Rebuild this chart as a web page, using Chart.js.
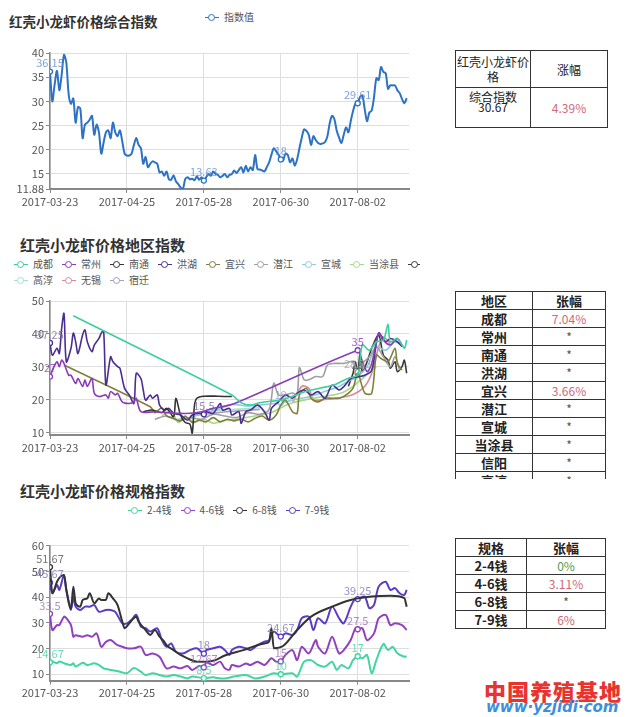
<!DOCTYPE html>
<html>
<head>
<meta charset="utf-8">
<script src="https://cdn.jsdelivr.net/npm/chart.js@4.4.1/dist/chart.umd.min.js"></script>
<style>
body{margin:0;background:#fff;font-family:"Noto Sans CJK SC",sans-serif;}
#page{position:relative;width:626px;height:717px;overflow:hidden;}
.title{position:absolute;font-weight:bold;color:#333;white-space:nowrap;line-height:1;}
.box{position:absolute;}
.lg{position:absolute;white-space:nowrap;overflow:hidden;font-size:10px;color:#555;line-height:12px;height:12px;}
.lg .it{display:inline-block;margin-right:9px;}
.lg .ic{display:inline-block;position:relative;width:14px;height:12px;vertical-align:top;margin-right:5px;}
.lg .ic:before{content:"";position:absolute;left:0;right:0;top:5.5px;height:1.5px;background:var(--c);}
.lg .ic:after{content:"";position:absolute;left:3px;top:2.5px;width:5px;height:5px;border:1.5px solid var(--c);border-radius:50%;background:#fff;}
table{position:absolute;border-collapse:collapse;table-layout:fixed;}
td{border:1.5px solid #333;text-align:center;padding:0;color:#222;}
#t2 td,#t3 td{height:17px;line-height:17px;font-size:12px;}
#t2 td:first-child,#t3 td:first-child,#t2 tr:first-child td,#t3 tr:first-child td{font-weight:bold;font-size:13px;}
.up{color:#d0687a;}
.zero{color:#4f9a5a;}
.star{color:#555;font-size:11px;}
</style>
</head>
<body>
<div id="page">

<div class="title" style="left:9px;top:15px;font-size:13.5px;">红壳小龙虾价格综合指数</div>
<div class="lg" id="lg1" style="left:205px;top:11px;"></div>
<div class="box" style="left:0;top:40px;width:420px;height:172px;"><canvas id="c1"></canvas></div>

<table id="t1" style="left:455px;top:50px;width:152px;">
<colgroup><col style="width:75px"><col style="width:77px"></colgroup>
<tr style="height:37px;"><td style="font-size:12px;line-height:15px;">红壳小龙虾价格</td><td style="font-size:12px;">涨幅</td></tr>
<tr style="height:40px;"><td style="font-size:12px;line-height:10px;vertical-align:top;padding-top:4px;">综合指数<br>30.67</td><td class="up" style="font-size:12px;">4.39%</td></tr>
</table>

<div class="title" style="left:20px;top:237px;font-size:15px;">红壳小龙虾价格地区指数</div>
<div class="lg" id="lg2a" style="left:14px;top:258px;width:406px;"></div>
<div class="lg" id="lg2b" style="left:14px;top:274px;width:406px;"></div>
<div class="box" style="left:0;top:290px;width:420px;height:170px;"><canvas id="c2"></canvas></div>

<div class="box" style="left:455px;top:291px;width:152px;height:188px;overflow:hidden;">
<table id="t2" style="left:0;top:0;width:150px;">
<colgroup><col style="width:77px"><col style="width:73px"></colgroup>
<tr><td>地区</td><td>张幅</td></tr>
<tr><td>成都</td><td class="up">7.04%</td></tr>
<tr><td>常州</td><td class="star">*</td></tr>
<tr><td>南通</td><td class="star">*</td></tr>
<tr><td>洪湖</td><td class="star">*</td></tr>
<tr><td>宜兴</td><td class="up">3.66%</td></tr>
<tr><td>潜江</td><td class="star">*</td></tr>
<tr><td>宣城</td><td class="star">*</td></tr>
<tr><td>当涂县</td><td class="star">*</td></tr>
<tr><td>信阳</td><td class="star">*</td></tr>
<tr><td>高淳</td><td class="star">*</td></tr>
</table>
</div>

<div class="title" style="left:20px;top:483px;font-size:15px;">红壳小龙虾价格规格指数</div>
<div class="lg" id="lg3" style="left:128px;top:504px;"></div>
<div class="box" style="left:0;top:535px;width:420px;height:170px;"><canvas id="c3"></canvas></div>

<table id="t3" style="left:455px;top:538px;width:150px;">
<colgroup><col style="width:71px"><col style="width:79px"></colgroup>
<tr><td>规格</td><td>张幅</td></tr>
<tr><td>2-4钱</td><td class="zero">0%</td></tr>
<tr><td>4-6钱</td><td class="up">3.11%</td></tr>
<tr><td>6-8钱</td><td class="star">*</td></tr>
<tr><td>7-9钱</td><td class="up">6%</td></tr>
</table>

<div style="position:absolute;left:484px;top:674px;font-size:22px;font-weight:900;color:#e8342e;letter-spacing:1px;white-space:nowrap;">中国养殖基地</div>
<div style="position:absolute;left:486px;top:698px;font:italic bold 15px 'DejaVu Sans';color:#3b8fdc;white-space:nowrap;">www·yzjidi·com</div>
</div>

<script>
/* ---------------- DATA ---------------- */

const xTickLabels = ["2017-03-23","2017-04-25","2017-05-28","2017-06-30","2017-08-02"]
const markLabels = ["2017-03-23","2017-05-28","2017-06-30","2017-08-02"]

// composite index, one value per day from 2017-03-23
const indexValues = [36.15,30.0,33.5,36.3,32.3,35.5,39.6,38.0,31.5,29.5,
30.6,25.6,28.8,28.5,22.4,25.2,25.6,26.2,27.0,23.1,
25.2,23.6,19.2,21.5,23.6,24.0,22.4,25.6,23.6,22.8,
24.0,21.7,19.2,18.8,18.8,19.2,21.0,22.4,21.0,20.3,
17.1,18.5,16.4,17.1,17.6,17.4,17.1,15.3,15.5,14.6,
15.5,13.9,13.8,14.7,13.5,12.9,12.2,11.9,13.9,14.3,
13.9,14.0,13.7,14.5,13.8,14.3,13.63,14.3,15.0,14.6,
15.5,15.0,14.8,14.3,14.6,15.0,14.3,14.8,15.0,15.7,
15.2,15.8,16.4,15.3,16.7,15.5,16.4,15.8,18.9,16.0,
15.9,15.7,15.5,16.4,17.4,19.0,20.3,19.7,19.0,18,
17.8,19.2,18.9,17.4,18.2,16.7,18.0,20.3,22.5,24.2,
23.9,23.1,21.0,22.8,22.0,21.4,21.2,21.3,21.6,22.8,
25.5,27.0,26.3,23.9,22.5,21.4,23.1,24.6,23.6,25.9,
28.0,29.5,29.61,30.9,31.2,28.4,25.9,27.7,28.1,30.9,
34.8,34.4,37.1,36.1,35.8,32.6,33.3,33.3,33.3,32.3,
31.7,30.5,29.6,30.67]
const yTicks1 = [11.88,15,20,25,30,35,40]

// region index: [day offset, value]
const chengdu = [[10,45.5],[78,21.4],[82,19],[86,18.3],[90,19],[95,19.5],[99,19.8],[104,21],[110,22.5],[116,23.5],[122,24.5],[128,26.5],[132,27.5],[134,36.6],[137,35],[140,37.6],[143,38],[145,42.9],[146,37.6],[149,38.6],[152,35.6],[153,38.1]]
const changzhou = [[0,27],[1,28.9],[3,31.5],[4,30],[5,32],[6,31],[8,27.4],[9,27.4],[11,24.9],[12,26.4],[14,24],[15,26],[16,24],[18,26.4],[19,21.9],[21,20.9],[24,21.4],[25,20.4],[26,22.4],[28,21.4],[29,21.9],[31,19.3],[34,18.8],[36,19.3],[37,20.4],[39,16.3],[45,16.3],[50,16],[55,15.8],[60,15.8],[65,16.3],[70,17.3],[77,18.3],[81,19.3],[132,35],[133,33.5],[136,28.5],[138,31],[141,40.2],[143,38],[146,36.6],[149,38.6],[151,36.6]]
const nantong = [[40,16.3],[44,16.8],[48,16],[50,17.3],[53,14.8],[54,20.4],[56,15.3],[58,13],[60,12.5],[61,9.8],[62,18.3],[63,20.4],[66,21],[72,21],[78,20.9]]
const honghu = [[0,37.25],[1,33.5],[3,35.6],[4,34],[5,41.7],[6,46.2],[7,31.5],[9,35.6],[10,40.2],[11,37.6],[12,34],[14,39.7],[15,41.2],[16,37.6],[18,34.6],[19,36.6],[21,38.6],[22,40.2],[23,40.9],[24,24.4],[26,33],[27,31.5],[29,30],[30,29.5],[32,23.4],[34,21.4],[36,18.8],[37,28],[39,26.4],[40,22.9],[41,19.8],[43,21.4],[44,20.4],[46,21.4],[47,18.3],[49,16.8],[51,17.3],[53,15.8],[56,15.3],[59,13.7],[61,15.3],[64,15.8],[66,15.5],[67,16.3],[70,15.8],[73,18.8],[74,16.8],[77,17.3],[78,15.3],[81,16.3],[82,12.7],[84,16.3],[86,16.8],[89,18.3],[92,16.3],[94,13.7],[95,17.3],[98,19.3],[101,21.4],[104,20.4],[106,21.9],[109,22.9],[112,21.4],[115,22.4],[118,20.4],[121,24.4],[124,22.9],[126,23.9],[129,26.4],[132,26.9],[135,27.4],[138,28.9],[141,40.2],[144,37.6],[146,38.6],[149,37.6],[151,36.1]]
const yixing = [[6,30.5],[43,17.8],[45,16],[48,17.5],[50,15],[53,14.3],[56,13.5],[58,15],[61,13],[64,13.7],[67,13.2],[70,14.5],[73,13.2],[76,14],[79,13.5],[82,14],[85,13.2],[88,14.3],[91,15],[94,13.7],[97,15.3],[99,18.3],[101,19.8],[104,16.3],[106,15.8],[107,21.4],[110,23.4],[112,20.4],[115,19.3],[118,20.4],[121,20.4],[124,20.4],[127,21.4],[130,23.5],[132,28],[135,22],[138,21.9],[140,33.5],[142,32.5],[145,31.5],[148,35.6],[149,31],[151,29]]
const qianjiang = [[45,14],[50,15],[55,13.5],[60,14.5],[65,14],[70,15.5],[75,15],[80,14.5],[85,16],[90,15.5],[94,17],[96,25],[98,21.4],[101,21.4],[104,22],[106,21.5],[107,29.7],[109,26],[111,26],[114,27],[117,27],[119,30.5],[122,31],[126,31],[130,31.5],[132,28.33],[134,31],[137,33],[140,36],[143,33],[146,30],[148,33],[150,29]]
const xuancheng = [[55,14],[60,14.5],[66,16],[72,17],[78,18.5],[85,18],[92,18.5],[99,19],[105,20],[112,21],[118,22.5],[124,24],[128,25.5],[132,27],[136,30],[140,36],[144,35],[148,37.5],[152,36]]
const dangtu = [[48,15],[52,16.5],[55,13],[58,14.5],[62,13.2],[66,14],[70,12.8],[74,13.5],[80,14],[88,15],[95,16],[99,17.5],[104,19],[110,20],[118,21],[125,22],[130,24],[135,27],[140,30]]
const xinyang = [[128,24],[130,28],[131,31.5],[132,28],[133,34],[134,28.5],[136,31.5],[138,35.6],[141,39.6],[143,33.5],[145,32],[146,29.5],[148,31.5],[149,28.5],[151,30],[152,32],[153,28]]
const gaochun = [[60,15],[70,16.5],[80,17],[90,17.5]]
const wuxi = [[104,19],[108,24],[111,23.5],[113,20],[118,20],[124,20.5],[130,21.5],[135,24],[138,28],[141,36],[143,39],[146,37]]
const suqian = [[60,15],[66,15.5],[72,16],[80,16.5],[90,17]]
const yTicks2 = [10,20,30,40,50]

// size index: [day offset, value]
const size24 = [[0,14.67],[1,14.9],[3,14.3],[4,15],[6,14.3],[9,13.6],[10,14.3],[11,13],[14,14.5],[16,13.6],[19,14.3],[21,13.6],[23,12.3],[26,11.7],[30,11],[33,10.4],[36,12.4],[39,11],[41,9.7],[44,10.4],[47,9.7],[50,9.1],[53,9.7],[56,9.1],[59,8.4],[61,9.1],[66,8.5],[70,8.8],[73,8.4],[75,8.4],[79,9.1],[84,9.7],[88,8.4],[92,9.1],[96,10.4],[99,10],[104,10.4],[106,9.1],[109,14.9],[112,15.5],[115,13.6],[118,13],[121,14.9],[123,11.7],[125,13.6],[128,12.3],[130,15.5],[132,17],[134,16.2],[136,17.5],[138,10.4],[140,15.5],[143,21.8],[145,19.4],[147,20.7],[149,18.2],[152,16.8],[153,17]]
const size46 = [[0,33.5],[1,27.2],[3,29.1],[4,29.1],[6,32.4],[7,31.8],[9,29.1],[10,24.6],[11,25.2],[14,24.6],[16,25.2],[18,24.6],[20,25.9],[22,20.7],[24,22.6],[26,23.3],[29,21.3],[31,20.7],[33,20.1],[36,20.1],[39,20.7],[41,17.5],[44,18.1],[47,16.8],[50,12.3],[53,13],[56,12.3],[59,13.2],[61,11.7],[64,13.2],[66,12.67],[67,14.6],[70,13.6],[73,14.9],[75,12.3],[77,11.8],[78,13.6],[81,13],[84,14.2],[86,13.6],[89,14.9],[92,13.6],[95,16.2],[97,14.9],[99,15],[101,17.5],[104,19.4],[106,15.5],[108,20.7],[111,18.1],[114,23.3],[115,20.7],[118,18.1],[121,24.6],[124,18.1],[126,19.4],[129,23.3],[131,27.9],[132,27.5],[134,27.9],[136,23.3],[139,25.9],[141,31.8],[144,33.1],[146,29.1],[148,29.8],[151,29.1],[153,27.2]]
const size68 = [[0,51.67],[1,41.5],[3,46],[4,47.5],[6,48.6],[7,42.8],[9,35],[10,44],[11,37.6],[13,36.3],[14,38.9],[16,39.5],[17,41.5],[19,37.6],[21,39.5],[22,38.9],[24,38.9],[25,41.5],[27,39.5],[29,36.9],[31,30.5],[32,27.9],[34,29.8],[37,32.4],[38,30.5],[41,27.2],[43,25.3],[45,27.2],[47,24.6],[49,22.7],[50,21.3],[53,19.4],[56,17.5],[59,16.2],[63,14.9],[67,14.9],[71,15.5],[75,17.3],[83,19.4],[92,22],[94,22.7],[95,27.9],[96,20.1],[100,21],[106,27.2],[112,32.4],[121,36.3],[129,38.9],[138,40.2],[146,40.5],[152,39.6],[153,36.3]]
const size79 = [[0,45.67],[1,41.5],[3,44.7],[4,42.8],[6,48.6],[7,42.8],[9,35.7],[10,40.2],[11,36.3],[13,35],[15,36.3],[17,36.3],[19,36.9],[21,34.3],[24,35],[26,35],[28,34.3],[31,29.8],[33,29.8],[35,31.2],[37,33.1],[39,28.5],[41,27.9],[43,26.6],[46,27.9],[48,23.3],[50,20.7],[52,22],[54,18.8],[57,18.1],[60,19.4],[63,20.1],[66,18],[67,19.4],[70,20.1],[73,20.7],[75,19.4],[77,17.5],[78,19.4],[81,20.7],[84,20.1],[86,19.4],[89,21.3],[92,22.7],[94,23.3],[96,26.6],[99,24.67],[101,25.9],[104,25.3],[106,27.2],[108,31.8],[111,32.4],[113,27.2],[115,31.8],[118,29.8],[121,36.3],[124,31.8],[126,29.8],[129,36.3],[131,39.5],[132,39.25],[135,40.2],[137,35.7],[139,37],[141,44.1],[144,46],[146,42.8],[148,43.5],[150,41.5],[152,40.9],[153,42.8]]
const yTicks3 = [10,20,30,40,50,60]


/* ---------------- HELPERS ---------------- */

const START = new Date(2017,2,23)

function dayOf(str){
const p = str.split("-")
return Math.round((new Date(+p[0],p[1]-1,+p[2]) - START)/86400000)
}

function dateOf(d){
const t = new Date(2017,2,23+d)
const pad = n => (n<10?"0":"")+n
return t.getFullYear()+"-"+pad(t.getMonth()+1)+"-"+pad(t.getDate())
}

const tickDays = xTickLabels.map(dayOf)
const markDays = markLabels.map(dayOf)
const pts = arr => arr.map(p => ({x:p[0],y:p[1]}))

Chart.defaults.font.family = '"Noto Sans CJK SC", sans-serif'

const pointLabels = {
id:"pointLabels",
afterDatasetsDraw(chart){
const ctx = chart.ctx
chart.data.datasets.forEach((ds,i)=>{
if(!ds.marks) return
chart.getDatasetMeta(i).data.forEach((el,j)=>{
const d = ds.data[j]
if(d.y==null || !ds.marks.includes(d.x)) return
ctx.save()
ctx.globalAlpha = 0.8
ctx.fillStyle = ds.labelColor || ds.borderColor
ctx.font = '11px "Noto Sans CJK SC", sans-serif'
ctx.textAlign = "center"
ctx.textBaseline = "bottom"
ctx.fillText(String(d.y), el.x, el.y-3)
ctx.restore()
})
})
}
}

function line(label,color,data,marks,extra){
return Object.assign({
label:label,
data:data,
borderColor:color,
backgroundColor:color,
borderWidth:1.6,
tension:0.3,
fill:false,
marks:marks,
pointRadius:ctx => (marks && ctx.raw && marks.includes(ctx.raw.x)) ? 2.5 : 0,
pointBackgroundColor:"#fff",
pointBorderColor:color,
pointBorderWidth:1.3,
pointHoverRadius:0
},extra||{})
}

function makeChart(id,datasets,yMin,yMax,yTicks,padTop,xHeight){
return new Chart(document.getElementById(id),{
type:"line",
data:{datasets:datasets},
plugins:[pointLabels],
options:{
responsive:true,
maintainAspectRatio:false,
animation:false,
layout:{padding:{top:padTop,right:11,left:0,bottom:0}},
plugins:{legend:{display:false},tooltip:{enabled:false}},
scales:{
x:{
type:"linear",min:0,max:154,
afterBuildTicks:s => { s.ticks = tickDays.map(v => ({value:v})) },
afterFit:s => { s.height = xHeight },
ticks:{callback:v => dateOf(v),autoSkip:false,maxRotation:0,font:{size:11},color:"#555",padding:2},
grid:{color:"#dedede",tickColor:"#888",tickLength:4},
border:{color:"#888",width:2}
},
y:{
min:yMin,max:yMax,
afterBuildTicks:s => { s.ticks = yTicks.map(v => ({value:v})) },
afterFit:s => { s.width = 50 },
ticks:{callback:v => String(v),font:{size:11},color:"#555",padding:2},
grid:{color:"#dedede",tickColor:"#888",tickLength:4},
border:{color:"#888",width:1.5}
}
}
}
})
}

function legend(el,datasets){
datasets.forEach(ds=>{
const it = document.createElement("span")
it.className = "it"
const ic = document.createElement("span")
ic.className = "ic"
ic.style.setProperty("--c",ds.borderColor)
it.appendChild(ic)
it.appendChild(document.createTextNode(ds.label))
el.appendChild(it)
})
}


/* ---------------- CHARTS ---------------- */

const ds1 = [
line("指数值","#2e72c4",indexValues.map((v,i)=>({x:i,y:v})),markDays,{borderWidth:2,labelColor:"#5a8fd4"})
]
makeChart("c1",ds1,11.88,40,yTicks1,13,23)
legend(document.getElementById("lg1"),ds1)

const ds2 = [
line("成都","#3ccf9c",pts(chengdu),[]),
line("常州","#8b3db8",pts(changzhou),[0,132]),
line("南通","#333333",pts(nantong),[]),
line("洪湖","#4b2e91",pts(honghu),[0,66],{labelColor:"#7a6aa0"}),
line("宜兴","#80803a",pts(yixing),[]),
line("潜江","#a0a0a0",pts(qianjiang),[132]),
line("宣城","#8ecbe0",pts(xuancheng),[99],{labelColor:"#7aa0c0"}),
line("当涂县","#a6d98c",pts(dangtu),[]),
line("信阳","#3a3a3a",pts(xinyang),[132],{labelColor:"#666"}),
line("高淳","#a3e4c8",pts(gaochun),[]),
line("无锡","#d98a98",pts(wuxi),[]),
line("宿迁","#ab9cb8",pts(suqian),[])
]
makeChart("c2",ds2,9.2,50,yTicks2,11,25)
legend(document.getElementById("lg2a"),ds2.slice(0,9))
legend(document.getElementById("lg2b"),ds2.slice(9))

const ds3 = [
line("2-4钱","#3fd6a0",pts(size24),markDays,{borderWidth:2}),
line("4-6钱","#9340bf",pts(size46),markDays,{borderWidth:2,labelColor:"#9a70b0"}),
line("6-8钱","#333333",pts(size68),[0],{borderWidth:2,tension:0,cubicInterpolationMode:"monotone",labelColor:"#555"}),
line("7-9钱","#5b3cc4",pts(size79),markDays,{borderWidth:2,labelColor:"#8070b8"})
]
makeChart("c3",ds3,7.5,60,yTicks3,10.7,24.3)
legend(document.getElementById("lg3"),ds3)
</script>
</body>
</html>
